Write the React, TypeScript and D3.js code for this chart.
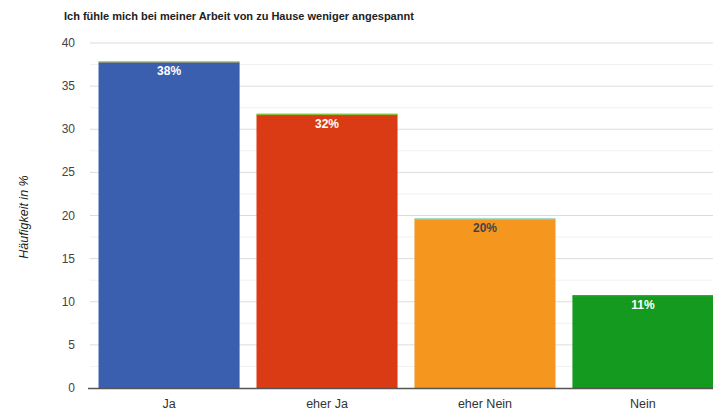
import { useEffect, useRef } from "react";
import * as d3 from "d3";

const title = "Ich fühle mich bei meiner Arbeit von zu Hause weniger angespannt";
const yLabel = "Häufigkeit in %";
const categories = ["Ja", "eher Ja", "eher Nein", "Nein"];
const values = [37.8, 31.7, 19.6, 10.65];
const labels = ["38%", "32%", "20%", "11%"];
const barColors = ["#3a5fae", "#da3b15", "#f5961f", "#149a1e"];
const topColors = ["#d8c84a", "#8cbf3a", "#a8d8c8", "#149a1e"];
const labelColors = ["#ffffff", "#ffffff", "#444444", "#ffffff"];
const yTicks = [0, 5, 10, 15, 20, 25, 30, 35, 40];

export default function App() {
    const ref = useRef<SVGSVGElement>(null);

    useEffect(() => {
        const svg = d3.select(ref.current);
        svg.selectAll("*").remove();

        const left = 90, right = 722, top = 43, bottom = 388;
        const font = "Arial, 'Liberation Sans', sans-serif";

        const x = d3.scaleBand().domain(categories).range([left, right]).paddingInner(0.107).paddingOuter(0.054);
        const y = d3.scaleLinear().domain([0, 40]).range([bottom, top]);

        // minor grid
        const minor = d3.range(2.5, 40, 5);
        svg.append("g").selectAll("line").data(minor).join("line")
            .attr("x1", left).attr("x2", 713)
            .attr("y1", d => y(d)).attr("y2", d => y(d))
            .attr("stroke", "#f1f1f1").attr("stroke-width", 1);
        // major grid
        svg.append("g").selectAll("line").data(yTicks.slice(1)).join("line")
            .attr("x1", left).attr("x2", 713)
            .attr("y1", d => y(d)).attr("y2", d => y(d))
            .attr("stroke", "#dcdcdc").attr("stroke-width", 1);

        svg.append("g").selectAll("text").data(yTicks).join("text")
            .attr("x", 75).attr("y", d => y(d) + 4)
            .attr("text-anchor", "end")
            .attr("font-family", font).attr("font-size", 12)
            .attr("fill", "#444")
            .text(d => d);

        svg.append("text")
            .attr("transform", `translate(28, 217) rotate(-90)`)
            .attr("text-anchor", "middle")
            .attr("font-family", font).attr("font-size", 12.5).attr("font-style", "italic")
            .attr("fill", "#222")
            .text(yLabel);

        svg.append("text")
            .attr("x", 64).attr("y", 20)
            .attr("font-family", font).attr("font-size", 11).attr("font-weight", "bold")
            .attr("fill", "#222")
            .text(title);

        const bars = svg.append("g");
        bars.selectAll("rect.bar").data(values).join("rect")
            .attr("class", "bar")
            .attr("x", (_, i) => x(categories[i])!)
            .attr("width", x.bandwidth())
            .attr("y", d => y(d))
            .attr("height", d => bottom - y(d))
            .attr("fill", (_, i) => barColors[i]);
        bars.selectAll("rect.top").data(values).join("rect")
            .attr("class", "top")
            .attr("x", (_, i) => x(categories[i])!)
            .attr("width", x.bandwidth())
            .attr("y", d => y(d) - 1)
            .attr("height", 1.5)
            .attr("fill", (_, i) => topColors[i]);

        bars.selectAll("text").data(values).join("text")
            .attr("x", (_, i) => x(categories[i])! + x.bandwidth() / 2)
            .attr("y", d => y(d) + 13)
            .attr("text-anchor", "middle")
            .attr("font-family", font).attr("font-size", 12).attr("font-weight", "bold")
            .attr("fill", (_, i) => labelColors[i])
            .text((_, i) => labels[i]);

        svg.append("line")
            .attr("x1", 88).attr("x2", 713)
            .attr("y1", bottom + 0.5).attr("y2", bottom + 0.5)
            .attr("stroke", "#555").attr("stroke-width", 1.5);

        svg.append("g").selectAll("text").data(categories).join("text")
            .attr("x", d => x(d)! + x.bandwidth() / 2)
            .attr("y", 408)
            .attr("text-anchor", "middle")
            .attr("font-family", font).attr("font-size", 12.5)
            .attr("fill", "#333")
            .text(d => d);
    }, []);

    return (
        <svg ref={ref} width={713} height={412} style={{ position: "absolute", left: 0, top: 0, background: "#fff" }} />
    );
}
